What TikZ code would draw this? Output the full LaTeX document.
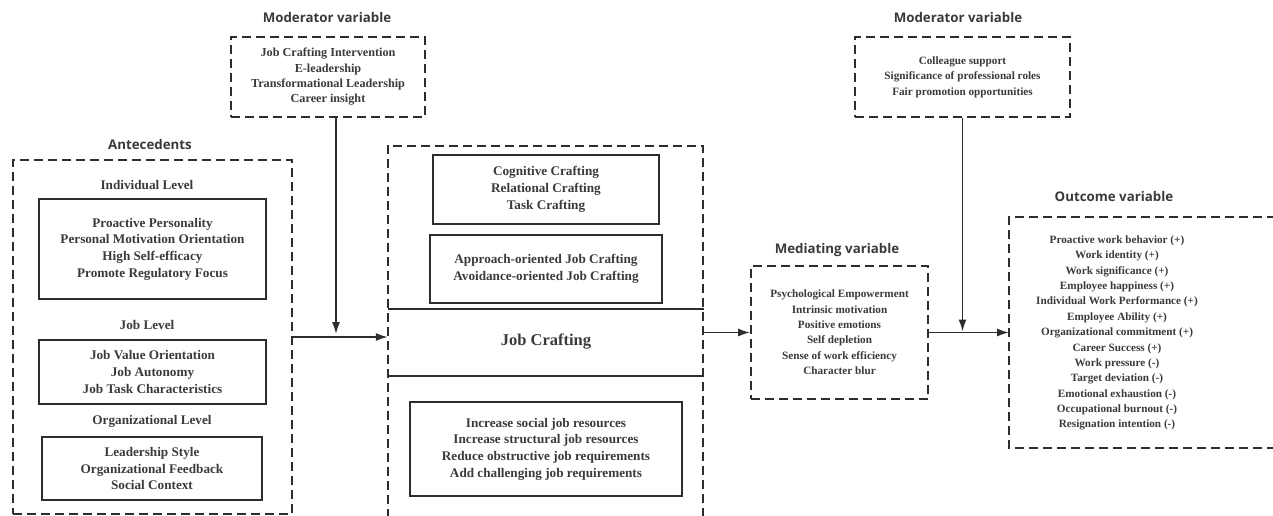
\documentclass[tikz,border=0pt]{standalone}
\usepackage{fontspec}
\setmainfont{Liberation Serif}
\newfontfamily\titlefont{Open Sans}
\usetikzlibrary{arrows.meta}
\definecolor{txt}{RGB}{58,58,58}
\definecolor{lc}{RGB}{45,45,45}
\newcommand\myBodyA{\bfseries\fontsize{13.2}{16.7}\selectfont}
\newcommand\myBodyB{\bfseries\fontsize{12.2}{15.3}\selectfont}
\newcommand\myBodyC{\bfseries\fontsize{11.2}{15.35}\selectfont}
\begin{document}
\begin{tikzpicture}[x=1pt,y=-1pt,
  every node/.style={text=txt},
  body/.style={font=\myBodyA, align=center, inner sep=0pt},
  bodyB/.style={font=\myBodyB},
  bodyC/.style={font=\myBodyC},
  dbox/.style={body, draw=lc, line width=2pt, dash pattern=on 9pt off 5pt},
  sbox/.style={body, draw=lc, line width=1.8pt},
  ttl/.style={font=\titlefont\bfseries\fontsize{13.3}{15}\selectfont},
  lbl/.style={body},
  dline/.style={draw=lc, line width=2pt, dash pattern=on 9pt off 5pt},
  sline/.style={draw=lc, line width=1.8pt},
  arr/.style={draw=lc, line width=1.6pt, -{Latex[length=12pt,width=8pt]}}]
\useasboundingbox (0,0) rectangle (1273,516);

% Moderator 1
\node[ttl] (t1) at (327,18) {Moderator variable};
\node[dbox, bodyB, minimum width=194pt, minimum height=80pt] (mod1) at (328,77)
  {Job Crafting Intervention\\E-leadership\\Transformational Leadership\\Career insight};

% Antecedents
\node[ttl] (t2) at (150,145) {Antecedents};
\node[dbox, minimum width=279pt, minimum height=354pt] (ante) at (152.5,337) {};
\node[lbl] (il) at (147,185) {Individual Level};
\node[sbox, minimum width=227pt, minimum height=100pt] (ind) at (152.5,249)
  {Proactive Personality\\Personal Motivation Orientation\\High Self-efficacy\\Promote Regulatory Focus};
\node[lbl] (jl) at (147,325) {Job Level};
\node[sbox, minimum width=227pt, minimum height=64pt] (job) at (152.5,372)
  {Job Value Orientation\\Job Autonomy\\Job Task Characteristics};
\node[lbl] (ol) at (152,421) {Organizational Level};
\node[sbox, minimum width=220pt, minimum height=63pt] (org) at (152,468.5)
  {Leadership Style\\Organizational Feedback\\Social Context};

% Job crafting
\node[inner sep=0pt, minimum width=315pt, minimum height=372pt] (jc) at (545.5,332) {};
\draw[dline] (jc.south west) -- (jc.north west) -- (jc.north east) -- (jc.south east);
\node[sbox, minimum width=226pt, minimum height=69pt] (cog) at (546,189.5)
  {Cognitive Crafting\\Relational Crafting\\Task Crafting};
\node[sbox, minimum width=232pt, minimum height=68pt] (app) at (546,269)
  {Approach-oriented Job Crafting\\Avoidance-oriented Job Crafting};
\coordinate (d1a) at (388,309); \coordinate (d1b) at (704,309);
\coordinate (d2a) at (388,376); \coordinate (d2b) at (704,376);
\draw[sline] (d1a) -- (d1b);
\draw[sline] (d2a) -- (d2b);
\node[font=\bfseries\fontsize{16.5}{19}\selectfont, inner sep=0pt] (jct) at (546,342) {Job Crafting};
\node[sbox, minimum width=272pt, minimum height=94pt] (inc) at (546,449)
  {Increase social job resources\\Increase structural job resources\\Reduce obstructive job requirements\\Add challenging job requirements};

% Mediating
\node[ttl] (t3) at (837,250) {Mediating variable};
\node[dbox, bodyC, minimum width=177pt, minimum height=133pt] (med) at (839.5,332.5)
  {Psychological Empowerment\\Intrinsic motivation\\Positive emotions\\Self depletion\\Sense of work efficiency\\Character blur};

% Moderator 2
\node[ttl] (t4) at (958,18) {Moderator variable};
\node[dbox, bodyC, minimum width=215pt, minimum height=80pt] (mod2) at (962.5,77)
  {Colleague support\\Significance of professional roles\\Fair promotion opportunities};

% Outcome
\node[ttl] (t5) at (1114,197) {Outcome variable};
\node[body, bodyC] (out) at (1117,333)
  {Proactive work behavior (+)\\Work identity (+)\\Work significance (+)\\Employee happiness (+)\\Individual Work Performance (+)\\Employee Ability (+)\\Organizational commitment (+)\\Career Success (+)\\Work pressure (-)\\Target deviation (-)\\Emotional exhaustion (-)\\Occupational burnout (-)\\Resignation intention (-)};
\coordinate (oNW) at (1009,217); \coordinate (oSW) at (1009,448);
\coordinate (oNE) at (1276,217); \coordinate (oSE) at (1276,448);
\draw[dline] (oNE) -- (oNW) -- (oSW) -- (oSE);

% Connectors
\draw[arr] (ante.east) -- (ante.east -| jc.west);
\coordinate (m1a) at (336,117); \coordinate (m1b) at (336,334);
\draw[arr] (m1a) -- (m1b);
\draw[arr] (med.west -| jc.east) -- (med.west);
\draw[arr] (med.east) -- (med.east -| oNW);
\coordinate (m2b) at (mod2.south |- med.east);
\draw[arr] (mod2.south) -- ([yshift=1pt]m2b);
\end{tikzpicture}
\end{document}
